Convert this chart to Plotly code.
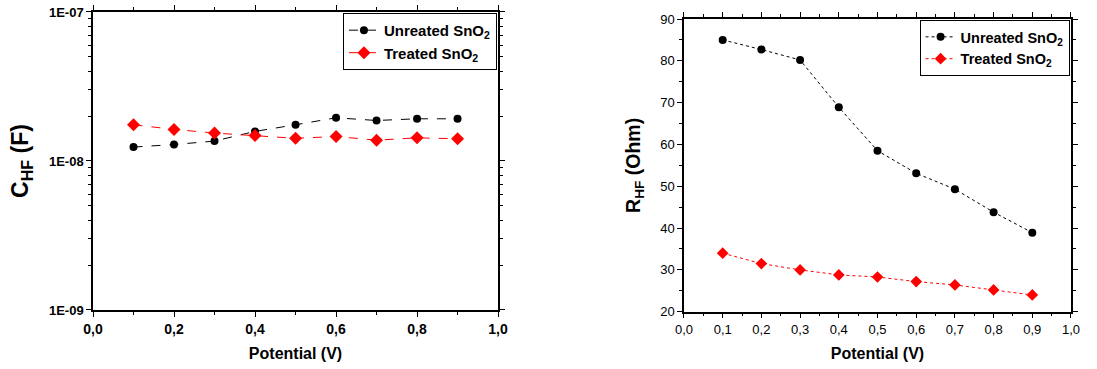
import plotly.graph_objects as go

potential = [0.1, 0.2, 0.3, 0.4, 0.5, 0.6, 0.7, 0.8, 0.9]
c_unreated = [1.24e-8, 1.29e-8, 1.36e-8, 1.58e-8, 1.75e-8, 1.95e-8, 1.87e-8, 1.92e-8, 1.92e-8]
c_treated = [1.75e-8, 1.63e-8, 1.54e-8, 1.48e-8, 1.42e-8, 1.46e-8, 1.38e-8, 1.43e-8, 1.41e-8]
r_unreated = [85.0, 82.7, 80.2, 68.9, 58.5, 53.1, 49.3, 43.8, 38.9]
r_treated = [34.0, 31.5, 30.0, 28.8, 28.3, 27.2, 26.4, 25.2, 24.0]

names = ["Unreated SnO<sub>2</sub>", "Treated SnO<sub>2</sub>"]

x_left_vals = [0.0, 0.2, 0.4, 0.6, 0.8, 1.0]
x_left_text = ["0,0", "0,2", "0,4", "0,6", "0,8", "1,0"]
x_right_vals = [0.0, 0.1, 0.2, 0.3, 0.4, 0.5, 0.6, 0.7, 0.8, 0.9, 1.0]
x_right_text = ["0,0", "0,1", "0,2", "0,3", "0,4", "0,5", "0,6", "0,7", "0,8", "0,9", "1,0"]
c_tick_vals = [1e-9, 1e-8, 1e-7]
c_tick_text = ["1E-09", "1E-08", "1E-07"]
c_minor_vals = [m * 1e-9 for m in range(2, 10)] + [m * 1e-8 for m in range(2, 10)]

FONT = "Liberation Sans, Arial, sans-serif"

fig = go.Figure()

fig.add_trace(go.Scatter(x=potential, y=c_unreated, name=names[0], mode="lines+markers",
                         line=dict(color="black", width=1, dash="dash"),
                         marker=dict(symbol="circle", size=8, color="black"),
                         xaxis="x", yaxis="y", legend="legend"))
fig.add_trace(go.Scatter(x=potential, y=c_treated, name=names[1], mode="lines+markers",
                         line=dict(color="red", width=1, dash="dash"),
                         marker=dict(symbol="diamond", size=10, color="red"),
                         xaxis="x", yaxis="y", legend="legend"))
fig.add_trace(go.Scatter(x=potential, y=r_unreated, name=names[0], mode="lines+markers",
                         line=dict(color="black", width=1, dash="dot"),
                         marker=dict(symbol="circle", size=8, color="black"),
                         xaxis="x2", yaxis="y2", legend="legend2"))
fig.add_trace(go.Scatter(x=potential, y=r_treated, name=names[1], mode="lines+markers",
                         line=dict(color="red", width=1, dash="dot"),
                         marker=dict(symbol="diamond", size=9, color="red"),
                         xaxis="x2", yaxis="y2", legend="legend2"))

common = dict(showline=True, linecolor="black", linewidth=1.5, mirror="ticks",
              ticks="outside", tickcolor="black", ticklen=5, tickwidth=1,
              showgrid=False, zeroline=False, automargin=False,
              ticklabeloverflow="allow")

fig.update_layout(
    width=1097, height=369,
    margin=dict(l=0, r=0, t=0, b=0),
    paper_bgcolor="white", plot_bgcolor="white",
    font=dict(family=FONT, color="black"),
    xaxis=dict(domain=[0.0848, 0.454], range=[0, 1], anchor="y",
               tickvals=x_left_vals, ticktext=x_left_text,
               tickfont=dict(size=14, family=FONT, weight="bold"),
               minor=dict(tickvals=[0.1, 0.3, 0.5, 0.7, 0.9], ticks="outside", ticklen=3, tickcolor="black"),
               title=dict(text="Potential (V)", font=dict(size=16, family=FONT, weight="bold"), standoff=12),
               **common),
    yaxis=dict(domain=[0.1599, 0.9675], type="log", range=[-9, -7], anchor="x",
               tickvals=c_tick_vals, ticktext=c_tick_text,
               tickfont=dict(size=13, family=FONT, weight="bold"),
               minor=dict(tickvals=c_minor_vals, ticks="outside", ticklen=3, tickcolor="black"),
               title=dict(text="C<sub>HF</sub> (F)", font=dict(size=23, family=FONT, weight="bold"), standoff=14),
               **common),
    xaxis2=dict(domain=[0.6235, 0.9763], range=[0, 1], anchor="y2",
                tickvals=x_right_vals, ticktext=x_right_text,
                tickfont=dict(size=13, family=FONT),
                minor=dict(dtick=0.05, ticks="outside", ticklen=3, tickcolor="black"),
                title=dict(text="Potential (V)", font=dict(size=16, family=FONT, weight="bold"), standoff=12),
                **common),
    yaxis2=dict(domain=[0.1553, 0.9485], range=[20, 90], anchor="x2",
                tick0=20, dtick=10,
                tickfont=dict(size=13, family=FONT),
                minor=dict(dtick=5, ticks="outside", ticklen=3, tickcolor="black"),
                title=dict(text="R<sub>HF</sub> (Ohm)", font=dict(size=19.5, family=FONT, weight="bold"), standoff=14),
                **common),
    legend=dict(x=0.453, xanchor="right", y=0.965, yanchor="top",
                bgcolor="white", bordercolor="black", borderwidth=1,
                font=dict(size=15, family=FONT, weight="bold"),
                itemwidth=30, tracegroupgap=0),
    legend2=dict(x=0.975, xanchor="right", y=0.946, yanchor="top",
                 bgcolor="white", bordercolor="black", borderwidth=1,
                 font=dict(size=14.5, family=FONT, weight="bold"),
                 itemwidth=30, tracegroupgap=0),
)

fig.write_html("out.html", config={"displayModeBar": False},
               post_script="document.body.style.margin='0';")
